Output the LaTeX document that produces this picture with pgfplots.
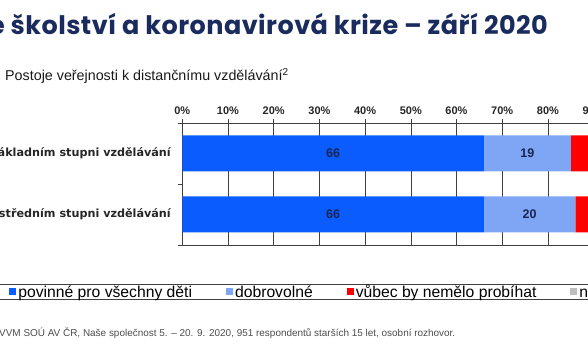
\documentclass[border=0pt]{standalone}
\usepackage{pgfplots}
\pgfplotsset{compat=1.18}
\usepackage{fontspec}
\setmainfont{Liberation Sans}
\newfontfamily\titlefont{Poppins}[LetterSpace=1.8]
\newfontfamily\catfont{DejaVu Sans}
\definecolor{navy}{HTML}{1A2B5E}
\definecolor{cblue}{HTML}{0A5CFF}
\definecolor{clblue}{HTML}{7EA6F4}
\definecolor{cred}{HTML}{FF0000}
\definecolor{cgray}{HTML}{BFBFBF}
\definecolor{gridc}{HTML}{404040}
\definecolor{lblc}{HTML}{1A2550}
\begin{document}
\begin{tikzpicture}[x=1pt,y=1pt]
\useasboundingbox (0,0) rectangle (588,363);
\clip (0,0) rectangle (588,363);
\node[anchor=base east, font=\titlefont\bfseries\fontsize{25.5}{29}\selectfont, text=navy, inner sep=0] at (548,328) {České školství a koronavirová krize – září 2020};
\node[anchor=base west, font=\fontsize{14.3}{16}\selectfont, text=black!90, inner sep=0] at (5,282) {Postoje veřejnosti k distančnímu vzdělávání\textsuperscript{2}};
\node[anchor=base east, font=\fontsize{9.95}{12}\selectfont, text=black!70, inner sep=0] at (455.5,26) {Zdroj: CVVM SOÚ AV ČR, Naše společnost 5. – 20. 9. 2020, 951 respondentů starších 15 let, osobní rozhovor.};
\begin{axis}[
  at={(182.3pt,118pt)}, anchor=south west,
  scale only axis, width=457pt, height=122pt,
  xbar stacked, bar width=36pt,
  xmin=0, xmax=100, ymin=0.5, ymax=2.5, y dir=reverse,
  xtick={0,10,...,100},
  xtick pos=right, xticklabel pos=right,
  xticklabel={\pgfmathprintnumber{\tick}\%},
  /pgf/number format/assume math mode=true,
  xmajorgrids, grid style={gridc, line width=0.6pt},
  axis line style={gridc, line width=0.6pt},
  tick style={gridc, line width=0.6pt},
  major tick length=4pt, tick align=outside,
  x tick label style={font=\bfseries\fontsize{11}{13}\selectfont, text=black!85, yshift=1pt},
  ytick={0.5,1.5,2.5}, yticklabels={}, ytick pos=left,
  extra y ticks={1,2},
  extra y tick labels={v základním stupni vzdělávání, ve středním stupni vzdělávání},
  extra y tick style={major tick length=0pt, yticklabel style={font=\catfont\bfseries\fontsize{11.2}{13}\selectfont, text=black!85, xshift=-8pt}},
  legend columns=4,
  legend style={at={(-0.412,-0.3197)}, anchor=north west, draw=gridc, line width=0.8pt,
    inner xsep=15pt, inner ysep=0pt,
    nodes={inner xsep=2pt, inner ysep=0.5pt},
    font=\fontsize{15.7}{17}\selectfont,
    /tikz/every even column/.append style={column sep=32pt}},
  legend image code/.code={\fill[#1] (0pt,-3.5pt) rectangle (7pt,3.5pt);},
]
\addplot[fill=cblue, draw=none, nodes near coords,
  every node near coord/.append style={anchor=center, font=\bfseries\fontsize{12.5}{14}\selectfont, text=lblc}]
  coordinates {(66,1) (66,2)};
\addplot[fill=clblue, draw=none, nodes near coords,
  every node near coord/.append style={anchor=center, font=\bfseries\fontsize{12.5}{14}\selectfont, text=lblc}]
  coordinates {(19,1) (20,2)};
\addplot[fill=cred, draw=none] coordinates {(10,1) (9,2)};
\addplot[fill=cgray, draw=none] coordinates {(5,1) (5,2)};
\legend{povinné pro všechny děti, dobrovolné, vůbec by nemělo probíhat, nevím}
\end{axis}
\end{tikzpicture}
\end{document}
